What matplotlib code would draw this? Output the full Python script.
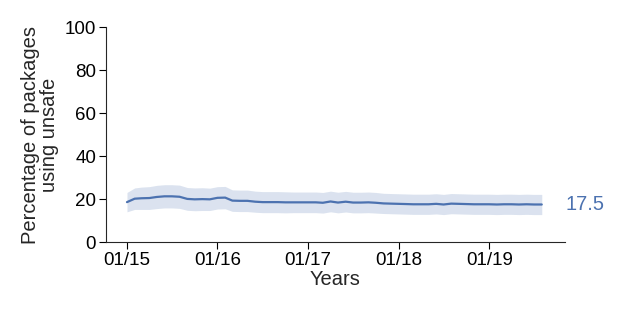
import pandas as pd
import matplotlib
matplotlib.use('Agg')
import matplotlib.pyplot as plt
import matplotlib.dates as mdates
import seaborn as sns

# monthly share of packages using unsafe, Jan 2015 .. Aug 2019
months = pd.date_range('2015-01-01', periods=56, freq='MS')
unsafe = [18.6, 20.2, 20.4, 20.5, 21.0, 21.3, 21.3, 21.1, 20.1, 19.9,
          20.0, 19.9, 20.6, 20.7, 19.3, 19.2, 19.2, 18.8, 18.6, 18.6,
          18.6, 18.5, 18.5, 18.5, 18.5, 18.5, 18.3, 18.9, 18.4, 18.8,
          18.4, 18.4, 18.5, 18.3, 18.0, 17.9, 17.8, 17.7, 17.6, 17.6,
          17.6, 17.8, 17.5, 17.9, 17.8, 17.7, 17.6, 17.6, 17.6, 17.5,
          17.6, 17.6, 17.5, 17.6, 17.5, 17.5]
ci = [4.5, 5.0, 5.2, 5.3, 5.4, 5.4, 5.4, 5.4, 5.3, 5.3,
      5.3, 5.2, 5.2, 5.2, 5.0, 5.0, 5.0, 4.9, 4.9, 4.9,
      4.9, 4.9, 4.8, 4.8, 4.8, 4.8, 4.8, 4.8, 4.8, 4.8,
      4.8, 4.8, 4.8, 4.8, 4.7, 4.7, 4.7, 4.7, 4.7, 4.7,
      4.7, 4.7, 4.7, 4.7, 4.7, 4.7, 4.7, 4.7, 4.7, 4.7,
      4.7, 4.7, 4.7, 4.7, 4.7, 4.7]
year_ticks = pd.date_range('2015-01-01', periods=5, freq='YS')

sns.set_style('ticks')
plt.rcParams['font.family'] = ['Liberation Sans', 'DejaVu Sans']
color = sns.color_palette('deep')[0]

df = pd.DataFrame({'month': months, 'unsafe': unsafe, 'ci': ci})

fig = plt.figure(figsize=(6.23, 3.12), dpi=100)
ax = fig.add_axes([0.170, 0.224, 0.737, 0.689])
ax.fill_between(df['month'], df['unsafe'] - df['ci'], df['unsafe'] + df['ci'],
                color=color, alpha=0.2, linewidth=0)
ax.plot(df['month'], df['unsafe'], color=color, linewidth=1.6)

ax.set_ylim(0, 100)
ax.set_xlim(pd.Timestamp('2014-10-08'), pd.Timestamp('2019-11-03'))
ax.set_xticks(year_ticks)
ax.xaxis.set_major_formatter(mdates.DateFormatter('%m/%y'))
ax.tick_params(labelsize=13.5, colors='black', length=5, pad=2)
ax.set_xlabel('Years', fontsize=14.5, labelpad=1)
ax.set_ylabel('Percentage of packages\nusing unsafe', fontsize=14.5,
              linespacing=1.0, labelpad=4)
ax.annotate('%.1f' % unsafe[-1], xy=(df['month'].iloc[-1], unsafe[-1]),
            xytext=(17, 0), textcoords='offset points', va='center',
            color=color, fontsize=14.5)
sns.despine(ax=ax)

plt.savefig('out.png', dpi=100)
